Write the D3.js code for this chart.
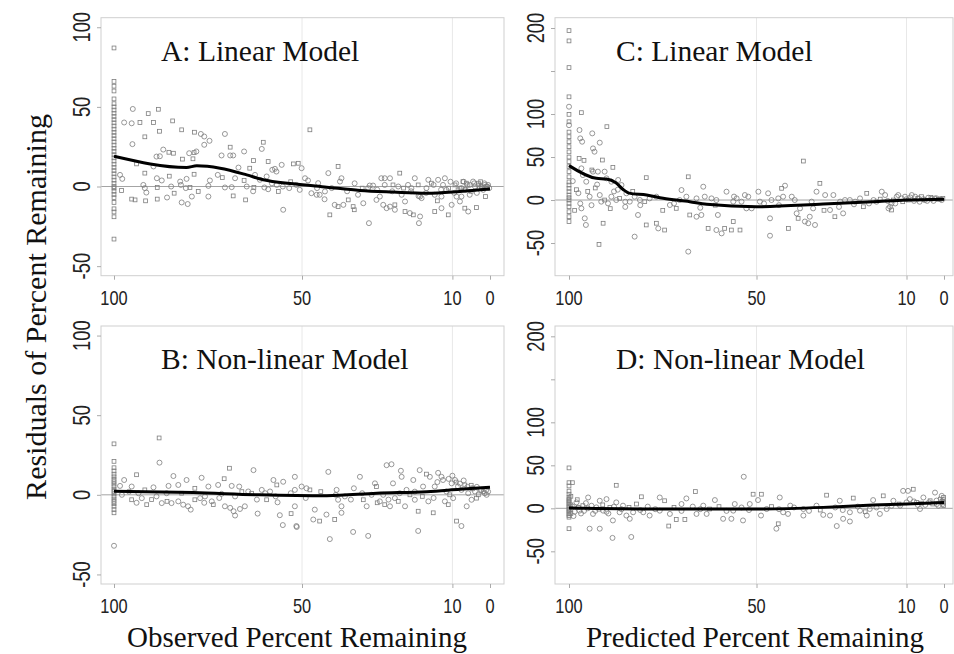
<!DOCTYPE html>
<html>
<head>
<meta charset="utf-8">
<script src="https://cdn.jsdelivr.net/npm/d3@7"></script>
<style>
  body { margin: 0; background: #fff; }
  svg { display: block; }
</style>
</head>
<body>
<div id="chart"></div>
<script>
const width = 954;
const height = 654;

// tick values
const xTicks = [100, 50, 10, 0];
const xGrid = [50, 10];
const yTicksLeft = [-50, 0, 50, 100];
const yTicksRight = [-50, 0, 50, 100, 150, 200];
const yLabelsRight = [-50, 0, 50, 100, 200];

const titles = ["A: Linear Model", "B: Non-linear Model", "C: Linear Model", "D: Non-linear Model"];
const xTitles = ["Observed Percent Remaining", "Predicted Percent Remaining"];
const yTitle = "Residuals of Percent Remaining";

// residual points: [percent remaining, residual, marker group (0 = circle, 1 = square)]
const pointsA = [
  [100,87,1],[100,66,1],[100,63,1],[100,60,1],[100,55,1],[100,52,1],[100,50,1],[100,48,1],[100,46,1],[100,44,1],
  [100,42,1],[100,40,1],[100,38,1],[100,36,1],[100,34,1],[100,32,1],[100,30,1],[100,28,1],[100,26,1],[100,24,1],
  [100,22,1],[100,20,1],[100,18,1],[100,16,1],[100,14,1],[100,12,1],[100,10,1],[100,8,1],[100,6,1],[100,4,1],
  [100,2,1],[100,0,1],[100,-1,1],[100,-3,1],[100,-5,1],[100,-7,1],[100,-10,1],[100,-14,1],[100,-16,1],[100,-19,1],[100,-33,1],
  [95,48.7,0],[97.3,40.2,0],[95.3,39.7,0],[93.1,40.2,1],[90.9,45.8,1],[88.2,48.5,1],[89.5,40.2,1],[84.4,41.2,1],
  [87.9,34.7,1],[82,35.6,1],[78.6,34.1,1],[76.9,33,0],[76,31.4,0],[74.6,28.7,0],[76,26.2,0],[70.5,33,0],[69.1,24.7,1],
  [65.4,22,0],[60.3,27.8,1],[60.7,23.6,0],[95.1,26.6,0],[91.8,31.2,1],[86.9,23.2,0],[85.4,21.5,1],[84.2,20.9,1],
  [88.7,18.8,0],[87.8,19,0],[94,14.2,1],[89.5,12.6,0],[81.8,17.2,1],[80,20.9,0],[78.7,21.3,1],[78.1,22,0],[79,17.4,1],
  [71.4,19.5,0],[69.1,19.5,0],[68.3,19.5,0],[66.9,11.9,0],[63.9,11.5,1],[62.9,16.3,1],[57.9,10.5,0],[56.8,9.4,0],
  [59,15.7,1],[55.4,13.6,0],[57.2,11.1,0],[52.3,14.2,1],[98.4,7.3,0],[97.8,4.8,0],[91.8,8.4,1],[88.6,5.2,0],[87.3,3.8,0],
  [85.3,6.5,1],[82.4,3.1,0],[80.7,4.8,0],[78.7,7.7,1],[74.5,3.8,0],[72.4,7.3,0],[71.2,5.6,1],[67.8,5.2,0],[65.4,3.8,1],
  [62.5,7.3,0],[61.2,4.2,0],[59.4,6.3,0],[92.2,1,0],[91.8,-1,0],[88.5,-0.6,1],[84.8,0,0],[82.2,1,0],[80.9,-1,0],
  [79.8,-0.6,1],[77.6,-3.1,1],[74.9,0.4,0],[70.5,-0.6,0],[68.7,-0.4,0],[64.7,0,0],[62.8,-0.6,1],[60,-0.6,0],[59,-1.7,0],
  [56.7,1,0],[56.3,-3.1,1],[55.1,0,0],[53.4,-1,0],[98,-2.5,1],[95.3,-7.9,1],[94.4,-8.4,1],[91.6,-9,1],[91.4,-3.8,0],
  [88.5,-7.9,1],[85.9,-6.9,0],[84,-4.2,1],[82,-10,0],[80.4,-11,0],[79.3,-6.3,0],[74.9,-6.3,0],[68.3,-5.9,1],[65,-8.4,1],
  [55,-14.6,0],
  [47.9,35.6,1],[50.1,11.5,0],[51,14.6,1],[49.2,5.2,0],[48.4,3.8,0],[51.5,1,0],[50.6,-2.1,0],[47.5,-4.2,0],[46.1,-5.2,0],
  [45.3,-5.2,0],[43.9,-3.1,0],[45.7,2.1,0],[43,8.4,0],[40.4,12.6,1],[39.5,5.2,0],[39.9,3.1,0],[42.1,-1,0],[41.3,-11.5,0],
  [42.6,-17.8,1],[40.4,-12.6,1],[39,-11.5,0],[37.7,-8.4,1],[36.4,-12.6,1],[36.1,-14.6,1],[35.1,-5.2,0],[33.7,-10.5,0],
  [32.4,-1,0],[32,0.6,0],[31.1,0.6,0],[30.2,-8.4,0],[29.3,-6.3,0],[28.4,-11.5,0],[27.5,-13.6,0],[32.2,-23,0],[28,1,0],
  [28,5.2,0],[26.6,5.2,0],[25.8,1,1],[24.4,0,0],[24,8.4,1],[23.5,-5.2,0],[25.3,-11.5,1],[22.6,-9.4,0],[21.8,1,0],
  [20.9,-1,0],[20,5.2,0],[18.6,-6.3,0],[18.2,-7.3,0],[19.1,1,1],[22.6,-15.7,1],[21.3,-16.7,0],[20.4,-17.8,1],[18.9,-23,0],
  [18.6,-18.8,0],[16.9,-1,0],[16.4,4.2,0],[15.6,2.1,1],[14.7,-5.2,0],[14.7,-15.7,1],[12.9,-13.6,0],[12.5,1,0],[13.8,4.2,0],
  [12,5.2,0],[11.1,-17.8,1],[10.2,-11.5,0],[9.3,1,1],[8.5,-2.1,1],[8,-9.4,0],[7.6,-6.3,0],[6.7,-13.6,1],[5.8,-15.7,0],
  [7.2,3.1,1],[6.3,2.1,1],[5.4,1,0],[4.5,3.1,0],[3.6,-13.2,1],[4,0,0],[3.1,2.1,1],[2.7,-1,0],[2.3,0,1],[1.8,-2.1,0],
  [1.4,1,0],[0.9,-1,1],[0.7,0,0],[1.2,-6.3,1],[7.6,-1,0],[6.7,-2.1,1],[5.4,-5.2,0],[11.6,-2.1,0],[8.9,-6.3,0],
  [28.9,5.2,0],[26.6,-12.6,0],[25.3,-14.6,0],[12.9,-6.3,0],
  [9,2,0],[8,-1,1],[7,3,0],[6,1,0],[5,-3,1],[4.2,2,0],[3,1,1],[2,-1,0],[1.5,2,0],[1,0,1],[0.5,1,0],[0.2,-1,0],
  [3.5,-4,0],[2.5,3,1],[6.5,-2,0],[9.5,-4,0],[10.5,3,0],[11,-1,1],[13,-2,0],[15,1,0],[17,-4,0],[14,-9,1],[19,-6,0],
  [21,-3,0],[23,-1,1],[26,-3,0],[30,-2,0],[34,-1,1],[36,2,0],[38,-3,0],[44,-8,0],[46,-1,0],[53,3,1],[58,2,0],[63,-3,0]
];

const pointsB = [
  [100,32,1],[100,21,1],[100,17,1],[100,15,1],[100,13,1],[100,11.3,1],[100,9.7,1],[100,8.2,1],[100,6.8,1],[100,5.2,1],
  [100,3.5,1],[100,2.1,1],[100,0.6,1],[100,-1,1],[100,-2.7,1],[100,-4.1,1],[100,-5.6,1],[100,-7.2,1],[100,-9.3,1],[100,-11.3,1],[100,-32,0],
  [88,35.7,1],[87.9,20.2,0],[94,12.6,1],[97.3,9.3,0],[98.4,5.6,0],[95.3,5.2,0],[91.8,3.1,1],[89.5,4.7,0],[85.5,5.6,0],
  [84.2,11.8,0],[82.9,6.2,0],[80.7,9.3,0],[78.5,4.1,1],[76.7,10.7,0],[74.9,5.2,0],[72.3,6.2,0],[70.7,10.1,1],[69.3,16.7,1],
  [68.7,5.6,0],[66.7,5.2,0],[62.9,15.5,0],[60.7,3.1,0],[57.6,9.3,0],[56.7,6.2,1],[55,8.2,0],[51.9,11.3,0],[97.9,0,0],
  [95.3,-3.1,1],[92.6,-2.1,0],[91.3,-6.2,1],[88.7,-1,0],[87.3,-5.2,0],[85.9,-4.1,1],[84.7,-5.2,0],[82.9,-4.1,0],
  [81.6,-6.2,0],[80.3,-7.2,0],[79.6,-9.3,0],[78.5,-3.1,1],[77.1,-2.1,0],[75.8,-1,0],[74,-4.1,0],[73.6,-6.2,1],[70.5,-7.2,0],
  [69.1,-8.2,0],[68.2,-10.3,0],[67.8,-13,0],[66.5,-8.9,0],[65.2,-7.2,0],[64.3,2.1,0],[63.4,1,1],[61.8,-11.8,0],[59.8,1,0],
  [59.4,-3.1,1],[58.5,2.1,0],[56.5,-4.7,0],[55.9,-12.8,0],[55.1,-19,0],[52.9,-11.8,1],[51.9,-7.2,0],[51.4,-20.2,0],
  [93.5,1,0],[82,1,1],[71.4,0.6,0],[67.8,-1,0],
  [51.5,-19.6,0],[51.9,3.1,0],[50.1,5.2,0],[48.8,4.1,0],[47.9,3.1,1],[46.6,-9.3,0],[47,-15.5,0],[45.3,-16.5,1],[43.5,-12.4,0],
  [42.6,-27.8,0],[43,14.4,0],[41.3,-15.5,1],[40.8,3.1,0],[40.4,-3.1,0],[39.5,-7.2,0],[39.5,-11.3,0],[38.6,-1,0],[36.4,-23.3,0],
  [36.2,4.1,0],[34.6,11.3,0],[33.7,-3.1,1],[32.4,-25.8,0],[32.8,-7.2,0],[31.5,0,0],[30.6,7.2,0],[30.2,5.2,1],[29.3,-4.1,0],
  [28.4,0,0],[27.5,18.6,0],[26.2,19.2,0],[28,-6.2,1],[26.6,-7.2,0],[25.8,7.2,0],[25.3,-2.1,0],[24.4,-4.1,1],[23.7,15.1,0],
  [23.5,11.3,0],[22.6,-7.2,0],[22.2,3.1,0],[21.3,0,1],[20.4,9.3,0],[20,-3.1,0],[19.1,-22.7,0],[19.1,-10.3,1],[18.7,15.5,0],
  [17.8,5.2,0],[16.9,13,1],[16,11.3,0],[16.4,-4.1,0],[15.1,-11.3,1],[14.7,5.2,0],[13.8,13.8,0],[12.9,11.3,0],[12.5,9.3,0],
  [12,-4.1,0],[11.1,-6.2,1],[10.2,7.2,0],[9.3,9.3,0],[8.9,-16.5,1],[7.6,-19.6,0],[8.5,5.2,0],[7.6,3.1,0],[6.7,6.2,1],
  [6.2,-7.2,0],[5.8,1,0],[4.9,4.1,0],[4,2.1,0],[3.1,0,1],[2.3,3.1,0],[1.4,1,0],[0.9,0,0],[11.6,2.1,0],[10.7,0,1],
  [9.8,-2.1,0],[4.9,-3.1,0],[3.6,-2.1,1],
  [11,10,0],[10,12,0],[9,8,1],[8,7,0],[7,9,0],[6,5,0],[5,6,1],[4.5,4,0],[3.5,5,0],[2.5,3,0],[1.8,2,1],[1,3,0],[0.5,2,0],
  [14,8,0],[15,-2,0],[18,-1,1],[20,2,0],[24,1,0],[27,-3,0],[30,-5,1],[34,1,0],[37,-3,0],[41,0,0],[45,2,1],[49,-2,0],
  [53,1,0],[57,-1,0],[62,-3,0],[66,2,1],[72,-2,0],[76,-5,0],[86,1,0],[90,-3,1],[94,-5,0],[96,2,0]
];

const pointsC = [
  [100,197,1],[100,185,1],[100,154,1],[100,120,1],[100,108.5,0],[100,99.6,1],[100,91,1],[100,87,0],[100,79,1],[100,73.6,1],
  [100,67.8,1],[100,62,1],[100,56,1],[100,50,1],[100,44.6,1],[100,38.8,1],[100,33,1],[100,27,1],[100,21,1],[100,17.4,1],
  [100,13.6,1],[100,9.7,1],[100,5.8,1],[100,2.7,1],[100,0,1],[100,-3.9,1],[100,-7.8,1],[100,-13.6,1],[100,-19.4,1],[100,-25,1],
  [96.7,101.6,1],[97.2,81.4,0],[97,71.7,0],[96.5,67.8,0],[93.8,77.5,0],[91.8,66.7,0],[93.6,60,0],[93.2,56.2,0],[89.9,85.3,1],
  [97.3,48.4,1],[96,46.1,1],[91.1,46.5,1],[96.7,36.8,0],[93.9,34.9,1],[93.6,33,0],[88.3,38,1],[92.3,33,0],[96.3,29,0],
  [95.4,21.3,0],[90.5,33,0],[90,25.2,0],[88.7,21.3,0],[86.9,23.3,0],[86,17.4,0],[79.4,26,1],[84.7,7.8,0],[94.5,3.9,0],
  [91.8,5.8,0],[91.4,-1.9,0],[90.5,0,1],[89.6,-3.9,0],[88.7,3.9,0],[87.4,0,0],[86.5,1.9,1],[83.8,-1.9,0],[82.5,3.9,0],
  [81.1,0,0],[79.8,-1.9,1],[78.5,1.9,0],[76.7,3.9,0],[96.7,-9.7,0],[95.8,-21.3,0],[95.5,-29,0],[90.9,-27,1],[92,-51.6,1],
  [82.5,-42.6,0],[81.6,-17.4,0],[79.4,-29,1],[76.7,-27,1],[76.2,-33,0],[74.5,-34.9,1],[68.2,27,1],[68.2,-60,0],[70,11.6,0],
  [68.7,3.9,0],[67.8,-17.4,1],[66,-19.4,0],[64.2,15.5,0],[63.8,3.9,0],[64.7,-17.4,0],[62.9,-33,1],[62,1.9,0],[60.7,0,0],
  [60.3,-17.4,0],[60.7,-34.9,0],[59.3,-38.8,0],[58.5,-33,1],[56.7,-34.9,1],[58,9.7,0],[56.2,-1.9,0],[55.3,1.9,0],[54,-1.9,0],
  [53.1,5.8,0],[56.2,-25,1],[54.4,-34.9,1],[52.7,-9.7,0],[73.1,-5.8,0],[71.4,-9.7,1],[66,1.9,0],[70.5,0,0],
  [52.2,3.9,0],[49.5,9.7,0],[46.9,7.8,0],[49.1,-1.9,0],[46,0,0],[44.2,1.9,0],[43.3,13.6,1],[42.4,16.7,0],[42.9,3.9,0],
  [40.6,3.9,0],[39.8,0,0],[46.4,-21.3,0],[46.4,-41.5,0],[51.3,-9.7,0],[41.5,-33,1],[39.3,-15.5,0],[38.4,-9.7,0],[38.9,-21.3,1],
  [37.5,45.3,1],[37.1,-25,0],[36.2,-27,0],[35.8,-19.4,0],[34.4,-29,0],[34.9,-9.7,0],[35.3,-1.9,0],[34,9.7,0],[33.1,19.4,1],
  [31.7,5.8,0],[30.4,-11.6,0],[29.5,5.8,0],[29.1,-19.4,1],[27.7,-1.9,0],[26.9,-15.5,0],[26.4,0,0],[25.1,0,0],[23.7,-1.9,0],
  [22.4,1.9,0],[21.5,-7.8,1],[20.6,7.8,1],[18.8,0,0],[16.6,9.7,0],[15.7,5.8,0],[14.8,-9.7,0],[14,-3.9,0],[13.5,0,1],
  [12.6,3.9,0],[12.2,5.8,0],[11.3,1.9,0],[10.4,3.9,0],[9.5,0,1],[8.6,5.8,0],[7.7,3.9,0],[6.8,1.9,0],[6,3.9,1],[5.1,0,0],
  [4.2,2.7,0],[3.3,1.2,0],[2.4,1.9,0],[1.5,0.8,1],[0.6,0,0],[14.4,-7.8,0],[14,-11.6,1],
  [20,-4,0],[18,-2,0],[17,1,1],[15,-1,0],[13,-4,0],[11,-2,1],[10,1,0],[9,3,0],[8,-1,0],[7,2,1],[6.5,-2,0],[5.5,1,0],
  [4.5,-1,0],[3.5,3,1],[2.8,-1,0],[2,2,0],[1,1,0],[0.3,2,1],[24,-5,0],[28,-8,0],[32,-12,1],[44,-6,0],[48,-4,0],
  [56,4,0],[61,-6,1],[65,-9,0],[72,-4,0],[75,-12,1],[85,-8,0],[88,10,0],[93,14,1],[98,12,1],[97,-4,0],[99,22,0],
  [98.5,-12,1],[97.5,8,0],[95,10,1],[94,-6,0],[92.5,18,0],[89,-10,1],[87,12,0],[85,-2,0],[83,10,1],[81,-6,0]
];

const pointsD = [
  [100,47,1],[100,29.8,1],[100,26,1],[100,20,1],[100,16.4,1],[100,12.6,1],[100,10.5,1],[100,8.8,1],[100,6.8,1],[100,5,1],
  [100,3,1],[100,1.1,1],[100,-1,1],[100,-2.7,1],[100,-4.5,1],[100,-6.5,1],[100,-8.5,1],[100,-10.3,1],[100,-23.7,1],
  [99.1,29.8,1],[94.9,12.6,0],[87.4,26.8,1],[94.5,-23.7,0],[91.8,-23.7,0],[88.4,-34.4,0],[83.4,-33.3,0],[83.8,-12.2,0],
  [84.7,-8.4,0],[88.3,-14.1,0],[98,6.9,0],[97.2,-2.7,0],[96.3,3.1,1],[93.6,-6.5,0],[91.8,8.8,0],[90,10.7,0],[89.1,1.1,1],
  [87.4,6.9,0],[85.6,3.1,0],[86.5,-4.6,0],[82,5,1],[80.7,13.4,1],[78.5,-8.4,0],[75.8,12.6,0],[74.5,8.8,1],[73.1,-6.5,0],
  [73.4,-20.6,1],[71.4,-13,1],[69.1,-13,1],[70,5,0],[68.7,11.5,0],[66.3,19.5,1],[66,-6.5,0],[64.2,3.1,0],[62.5,-0.8,1],
  [61.1,9.6,0],[58.9,-12.2,0],[56.7,-12.2,0],[55.8,5,0],[53.6,-14.1,0],[53.4,36.7,0],[50.9,16.4,1],[48.7,16.4,1],[49.6,9.6,0],
  [51.8,5,0],[48.8,-8.4,0],[43.8,12.6,0],[42.9,-4.6,0],[44.2,-18,1],[44.7,-23.7,0],[41.6,-6.5,0],[37.5,-0.8,0],[34,3.1,0],
  [31.3,15.3,1],[32.2,-7.6,0],[30.4,-8.4,0],[28.6,-20.6,0],[27.8,8.8,0],[26.9,-12.2,0],[25.1,-15.3,0],[24.2,11.9,1],
  [22.4,-2.7,0],[19.8,-0.8,0],[18.9,9.6,0],[16.2,14.5,1],[15.3,-0.8,0],[13.5,8.8,0],[10.9,20.3,0],[9.6,20.3,0],[8.2,22.2,1],
  [9.1,10.7,0],[7.3,6.9,1],[6.4,-0.8,0],[5.5,12.6,0],[3.7,8.8,1],[2.4,18.3,0],[1.9,5,0],[1,10.7,1],[0.1,6.9,1],[0.1,12.6,1],
  [0.1,3.1,1],[0.6,14.5,0],[11.7,3.1,0],[10,6.9,0],[17.1,-6.5,0],[20.6,-8.4,0],[25.1,-4.6,0],[37.5,-8.4,0],[41,3.1,0],
  [47.3,-0.8,0],[56.2,-2.7,0],[63.3,-6.5,0],[75.8,-2.7,0],[80.2,-4.6,0],[82.9,-4.6,0],[90.9,-2.7,0],[92.7,1.1,0],
  [99,2,0],[98.5,-4,0],[97.5,1,1],[96,-3,0],[95,0,0],[94,3,0],[92,-1,1],[90,-4,0],[88,2,0],[86,-1,0],[84,1,1],[81,-2,0],
  [79,2,0],[77,-1,0],[72,1,1],[70,-3,0],[67,2,0],[65,-1,0],[60,2,1],[58,-3,0],[54,1,0],[52,-2,0],[46,2,1],[44,-1,0],
  [40,1,0],[36,-3,0],[33,-2,1],[29,1,0],[27,-2,0],[23,2,0],[21,-4,1],[18,1,0],[14,3,0],[12,5,1],[8,8,0],[7,4,0],
  [6,6,1],[5,4,0],[4,7,0],[3,5,1],[2,9,0],[1.5,3,0],[0.5,8,1],[0.3,5,0],[0.2,10,1],
  [99.5,-6,1],[99.5,4,1],[99.5,14,1],[98.8,-9,0],[97.8,10,1],[96.8,-6,0],[95.5,6,0],[93,-3,0],[91,4,1],[89.5,-6,0]
];

// lowess smooth through each panel
const smoothA = [[100,19],[80.7,12],[78,13],[71.8,11.5],[64.7,7.3],[60.3,4.2],[52.3,1.7],[43.4,-0.4],[34.6,-2.5],[25.7,-3.5],[16.8,-4.2],[8,-3.1],[0,-1.6]];
const smoothB = [[100,2.3],[78.9,1.4],[61.2,0],[43.4,-0.6],[30.1,1],[16.8,2],[8,3.5],[0,4.8]];
const smoothC = [[100,40],[92.7,25.2],[90,24.4],[87.5,20],[85.5,12],[84,8],[79.3,5.8],[74.9,2],[67.8,-2],[63.3,-5],[50,-7.8],[32.2,-4.7],[18.9,-2],[10,0],[0,1]];
const smoothD = [[100,0.3],[76.7,-0.8],[50,-0.8],[32.2,1.1],[18.9,3.8],[10,5],[0,6.9]];

const svg = d3.select("#chart").append("svg")
    .attr("width", width)
    .attr("height", height)
    .style("background-color", "#fff");

// panel layout (frame box and where 100 / 0 fall on x)
const panels = [
  { title: titles[0], pts: pointsA, fit: smoothA, box: [101, 17.7, 504, 275.7], xr: [114, 490], yDom: [-56, 106], yTicks: yTicksLeft, yLabels: yTicksLeft },
  { title: titles[1], pts: pointsB, fit: smoothB, box: [101, 326, 504, 584], xr: [114, 490], yDom: [-56, 106], yTicks: yTicksLeft, yLabels: yTicksLeft },
  { title: titles[2], pts: pointsC, fit: smoothC, box: [555, 17.7, 953, 275.7], xr: [569, 944], yDom: [-88, 212], yTicks: yTicksRight, yLabels: yLabelsRight },
  { title: titles[3], pts: pointsD, fit: smoothD, box: [555, 326, 953, 584], xr: [569, 944], yDom: [-88, 212], yTicks: yTicksRight, yLabels: yLabelsRight }
];

const markColor = "#7e7e7e";

panels.forEach(p => {
  const [x0, y0, x1, y1] = p.box;
  const x = d3.scaleLinear().domain([100, 0]).range(p.xr);
  const y = d3.scaleLinear().domain(p.yDom).range([y1, y0]);
  const g = svg.append("g");

  // faint vertical grid
  g.selectAll(".grid").data(xGrid).enter().append("line")
      .attr("x1", d => x(d)).attr("x2", d => x(d))
      .attr("y1", y0).attr("y2", y1)
      .attr("stroke", "#e8e8e8").attr("stroke-width", 1);

  // zero line
  g.append("line")
      .attr("x1", x0).attr("x2", x1)
      .attr("y1", y(0)).attr("y2", y(0))
      .attr("stroke", "#9a9a9a").attr("stroke-width", 0.9);

  // frame
  g.append("rect")
      .attr("x", x0).attr("y", y0)
      .attr("width", x1 - x0).attr("height", y1 - y0)
      .attr("fill", "none").attr("stroke", "#cfcfcf").attr("stroke-width", 1);

  // axes
  const xAxis = d3.axisBottom(x).tickValues(xTicks).tickSize(4).tickFormat("");
  g.append("g").attr("transform", `translate(0,${y1})`).call(xAxis)
      .call(a => a.select(".domain").remove())
      .call(a => a.selectAll("line").attr("stroke", "#aaa"));
  const yAxis = d3.axisLeft(y).tickValues(p.yTicks).tickSize(4).tickFormat("");
  g.append("g").attr("transform", `translate(${x0},0)`).call(yAxis)
      .call(a => a.select(".domain").remove())
      .call(a => a.selectAll("line").attr("stroke", "#aaa"));

  // tick labels
  g.selectAll(".xl").data(xTicks).enter().append("text")
      .attr("transform", d => `translate(${x(d)},${y1 + 29}) scale(0.82,1)`)
      .attr("text-anchor", "middle")
      .attr("font-family", "'Liberation Sans', Arial, sans-serif")
      .attr("font-size", 20)
      .attr("fill", "#222")
      .text(d => d);
  g.selectAll(".yl").data(p.yLabels).enter().append("text")
      .attr("transform", d => `translate(${x0 - 11},${y(d)}) rotate(-90) scale(0.8,1)`)
      .attr("text-anchor", "middle")
      .attr("font-family", "'Liberation Sans', Arial, sans-serif")
      .attr("font-size", 23)
      .attr("fill", "#222")
      .text(d => d);

  // points
  g.selectAll(".c").data(p.pts.filter(d => d[2] === 0)).enter().append("circle")
      .attr("cx", d => x(d[0])).attr("cy", d => y(d[1]))
      .attr("r", 2.5)
      .attr("fill", "none").attr("stroke", markColor).attr("stroke-width", 0.8);
  g.selectAll(".s").data(p.pts.filter(d => d[2] === 1)).enter().append("rect")
      .attr("x", d => x(d[0]) - 1.9).attr("y", d => y(d[1]) - 1.9)
      .attr("width", 3.8).attr("height", 3.8)
      .attr("fill", "none").attr("stroke", markColor).attr("stroke-width", 0.8);

  // smooth
  const line = d3.line().x(d => x(d[0])).y(d => y(d[1])).curve(d3.curveMonotoneX);
  g.append("path").datum(p.fit)
      .attr("d", line)
      .attr("fill", "none").attr("stroke", "#000").attr("stroke-width", 3);

  // panel title
  g.append("text")
      .attr("x", p.xr[0] + 47).attr("y", y0 + 43)
      .attr("font-family", "'Liberation Serif', 'Times New Roman', serif")
      .attr("font-size", 29.5)
      .attr("fill", "#111")
      .text(p.title);
});

// axis titles
svg.selectAll(".xt").data(xTitles).enter().append("text")
    .attr("x", (d, i) => i === 0 ? 297 : 755)
    .attr("y", 647)
    .attr("text-anchor", "middle")
    .attr("font-family", "'Liberation Serif', 'Times New Roman', serif")
    .attr("font-size", 29)
    .attr("fill", "#111")
    .text(d => d);

svg.append("text")
    .attr("transform", "translate(46,307) rotate(-90)")
    .attr("text-anchor", "middle")
    .attr("font-family", "'Liberation Serif', 'Times New Roman', serif")
    .attr("font-size", 30)
    .attr("fill", "#111")
    .text(yTitle);
</script>
</body>
</html>
